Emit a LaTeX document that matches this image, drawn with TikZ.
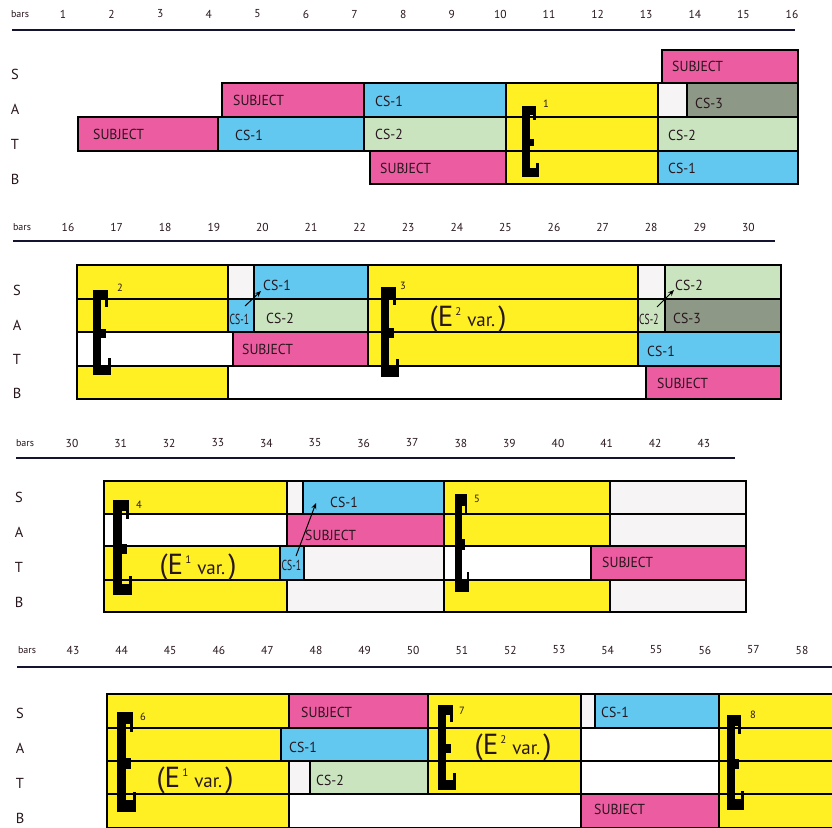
\documentclass[tikz,border=0pt]{standalone}
\usepackage{fontspec}
\setmainfont{PT Sans}
\newfontfamily\lab[FakeStretch=0.95]{PT Sans}
\usetikzlibrary{arrows.meta}
\definecolor{pk}{RGB}{236,92,160}
\definecolor{bl}{RGB}{98,200,240}
\definecolor{yl}{RGB}{255,240,35}
\definecolor{gr}{RGB}{202,228,192}
\definecolor{gy}{RGB}{142,152,134}
\definecolor{wh}{RGB}{246,244,244}
\definecolor{ink}{RGB}{40,22,30}
\definecolor{rulec}{RGB}{20,20,50}
\tikzset{
  cellbox/.style={draw=black, line width=1.3pt},
  lbl/.style={anchor=west, inner sep=0pt, text=ink, font=\lab\fontsize{14.5}{14.5}\selectfont},
  rowlbl/.style={anchor=center, inner sep=0pt, text=ink, font=\fontsize{14.5}{14.5}\selectfont},
  barnum/.style={anchor=center, inner sep=0pt, text=ink, font=\fontsize{11.5}{11.5}\selectfont},
  suplbl/.style={anchor=center, inner sep=0pt, text=ink, font=\fontsize{10.5}{10.5}\selectfont},
  rulel/.style={draw=rulec, line width=1.6pt},
  arr/.style={draw=black, line width=1pt, -{Stealth[length=6pt,width=5pt,open]}},
  evar/.style={anchor=center, inner sep=0pt, text=ink}
}
\newcommand{\mycell}[5]{\draw[cellbox, fill=#5] (#1,#2) rectangle (#3,#4);}
\newcommand{\mylab}[4]{\node[lbl] (#1) at (#2,#3) {#4};}
\newcommand{\mysmall}[4]{\node[lbl] (#1) at (#2,#3) {\scalebox{0.7}[1]{#4}};}
\newcommand{\Eg}[4]{%
  \fill[black] (#1,#2) rectangle ++(#4,#3);
  \fill[black] (#1,#2) rectangle ++(1.85*#4,0.12*#3);
  \fill[black] (#1+1.5*#4,#2) rectangle ++(0.35*#4,0.2*#3);
  \fill[black] (#1+#4,#2+0.46*#3) rectangle ++(0.6*#4,0.11*#3);
  \fill[black] (#1,#2+0.88*#3) rectangle ++(2.2*#4,0.12*#3);
  \fill[black] (#1+1.85*#4,#2+0.8*#3) rectangle ++(0.35*#4,0.12*#3);
}
\newcommand{\Evar}[4]{\node[evar] (#1) at (#2,#3) {\fontsize{29}{29}\selectfont(E\hspace{2pt}\raisebox{11pt}{\fontsize{11}{11}\selectfont #4}\hspace{6pt}{\fontsize{19}{19}\selectfont var.}\hspace{3pt})};}
\begin{document}
\begin{tikzpicture}[x=1pt,y=-1pt]
\useasboundingbox (0,0) rectangle (832,827);
\fill[white] (0,0) rectangle (832,827);

% ===== headers =====
\node[barnum, font=\fontsize{10}{10}\selectfont] (h1) at (20,14) {bars};
\foreach \i in {1,...,16} {\node[barnum] (h1n\i) at ({63+48.6*(\i-1)},14) {\i};}
\draw[rulel] (12,30) -- (795,30);

\node[barnum, font=\fontsize{10}{10}\selectfont] (h2) at (22,227) {bars};
\foreach \i in {16,...,30} {\node[barnum] (h2n\i) at ({68+48.6*(\i-16)},227) {\i};}
\draw[rulel] (13,241) -- (775,241);

\node[barnum, font=\fontsize{10}{10}\selectfont] (h3) at (25,443) {bars};
\foreach \i in {30,...,43} {\node[barnum] (h3n\i) at ({72+48.6*(\i-30)},443) {\i};}
\draw[rulel] (16,458) -- (735,458);

\node[barnum, font=\fontsize{10}{10}\selectfont] (h4) at (27,650) {bars};
\foreach \i in {43,...,58} {\node[barnum] (h4n\i) at ({73+48.6*(\i-43)},650) {\i};}
\draw[rulel] (17,667) -- (840,667);

% ===== row labels =====
\node[rowlbl] (r1s) at (15,74) {S};
\node[rowlbl] (r1a) at (15,109) {A};
\node[rowlbl] (r1t) at (15,144) {T};
\node[rowlbl] (r1b) at (15,179) {B};
\node[rowlbl] (r2s) at (17,290) {S};
\node[rowlbl] (r2a) at (17,325) {A};
\node[rowlbl] (r2t) at (17,359) {T};
\node[rowlbl] (r2b) at (17,393) {B};
\node[rowlbl] (r3s) at (19,497) {S};
\node[rowlbl] (r3a) at (19,532) {A};
\node[rowlbl] (r3t) at (19,567) {T};
\node[rowlbl] (r3b) at (19,602) {B};
\node[rowlbl] (r4s) at (20,713) {S};
\node[rowlbl] (r4a) at (20,748) {A};
\node[rowlbl] (r4t) at (20,783) {T};
\node[rowlbl] (r4b) at (20,818) {B};

% ===== section 1 =====
\mycell{662}{50}{798}{83}{pk}
\mycell{222}{83}{364}{117}{pk}
\mycell{364}{83}{506}{117}{bl}
\mycell{506}{83}{658}{117}{yl}
\mycell{658}{83}{687}{117}{wh}
\mycell{687}{83}{798}{117}{gy}
\mycell{78}{117}{218}{151}{pk}
\mycell{218}{117}{364}{151}{bl}
\mycell{364}{117}{506}{151}{gr}
\mycell{506}{117}{658}{151}{yl}
\mycell{658}{117}{798}{151}{gr}
\mycell{370}{151}{506}{184}{pk}
\mycell{506}{151}{658}{184}{yl}
\mycell{658}{151}{798}{184}{bl}
\mylab{a1}{672}{66}{SUBJECT}
\mylab{a2}{233}{100}{SUBJECT}
\mylab{a3}{375}{101}{CS-1}
\mylab{a4}{695}{103}{CS-3}
\mylab{a5}{93}{134}{SUBJECT}
\mylab{a6}{235}{135}{CS-1}
\mylab{a7}{375}{134}{CS-2}
\mylab{a8}{668}{135}{CS-2}
\mylab{a9}{380}{168}{SUBJECT}
\mylab{a10}{668}{168}{CS-1}
\Eg{522}{106}{71}{7.5}
\node[suplbl] (e1) at (546,104) {1};

% ===== section 2 =====
\mycell{77}{265}{228}{299}{yl}
\mycell{228}{265}{254}{299}{wh}
\mycell{254}{265}{368}{299}{bl}
\mycell{368}{265}{638}{299}{yl}
\mycell{638}{265}{665}{299}{wh}
\mycell{665}{265}{781}{299}{gr}
\mycell{77}{299}{228}{332}{yl}
\mycell{228}{299}{254}{332}{bl}
\mycell{254}{299}{368}{332}{gr}
\mycell{368}{299}{638}{332}{yl}
\mycell{638}{299}{665}{332}{gr}
\mycell{665}{299}{781}{332}{gy}
\mycell{77}{332}{233}{366}{white}
\mycell{233}{332}{368}{366}{pk}
\mycell{368}{332}{638}{366}{yl}
\mycell{638}{332}{781}{366}{bl}
\mycell{77}{366}{228}{399}{yl}
\mycell{228}{366}{646}{399}{white}
\mycell{646}{366}{781}{399}{pk}
\mylab{b1}{263}{285}{CS-1}
\mylab{b2}{675}{285}{CS-2}
\mysmall{b3}{229.5}{319}{CS-1}
\mylab{b4}{266}{318}{CS-2}
\mysmall{b5}{639}{319}{CS-2}
\mylab{b6}{673}{318}{CS-3}
\mylab{b7}{242}{349}{SUBJECT}
\mylab{b8}{647}{351}{CS-1}
\mylab{b9}{657}{383}{SUBJECT}
\Eg{93}{290}{85}{8}
\node[suplbl] (e2) at (120,288) {2};
\Eg{381}{287}{90}{8}
\node[suplbl] (e3) at (403,286) {3};
\Evar{v2}{468}{319}{2}
\coordinate (p1s) at (245,306);
\coordinate (p1e) at (261,291);
\draw[arr] (p1s) -- (p1e);
\coordinate (p2s) at (657,307);
\coordinate (p2e) at (674,290);
\draw[arr] (p2s) -- (p2e);

% ===== section 3 =====
\mycell{104}{481}{287}{514}{yl}
\mycell{287}{481}{303}{514}{wh}
\mycell{303}{481}{444}{514}{bl}
\mycell{444}{481}{610}{514}{yl}
\mycell{610}{481}{746}{514}{wh}
\mycell{104}{514}{287}{546}{white}
\mycell{287}{514}{444}{546}{pk}
\mycell{444}{514}{610}{546}{yl}
\mycell{610}{514}{746}{546}{wh}
\mycell{104}{546}{280}{580}{yl}
\mycell{280}{546}{304}{580}{bl}
\mycell{304}{546}{444}{580}{wh}
\mycell{444}{546}{591}{580}{white}
\mycell{591}{546}{746}{580}{pk}
\mycell{104}{580}{287}{612}{yl}
\mycell{287}{580}{444}{612}{wh}
\mycell{444}{580}{610}{612}{yl}
\mycell{610}{580}{746}{612}{wh}
\mylab{c1}{330}{502}{CS-1}
\mylab{c2}{305}{535}{SUBJECT}
\mysmall{c3}{281.5}{565}{CS-1}
\mylab{c4}{602}{562}{SUBJECT}
\Eg{113}{500}{95}{8.5}
\node[suplbl] (e4) at (139,505) {4};
\Eg{455}{494}{98}{6.5}
\node[suplbl] (e5) at (477,499) {5};
\Evar{v1}{198}{567}{1}
\coordinate (p3s) at (296,556);
\coordinate (p3e) at (316,503);
\draw[arr] (p3s) -- (p3e);

% ===== section 4 =====
\mycell{107}{694}{289}{728}{yl}
\mycell{289}{694}{428}{728}{pk}
\mycell{428}{694}{581}{728}{yl}
\mycell{581}{694}{595}{728}{wh}
\mycell{595}{694}{719}{728}{bl}
\mycell{719}{694}{845}{728}{yl}
\mycell{107}{728}{281}{761}{yl}
\mycell{281}{728}{428}{761}{bl}
\mycell{428}{728}{581}{761}{yl}
\mycell{581}{728}{719}{761}{white}
\mycell{719}{728}{845}{761}{yl}
\mycell{107}{761}{289}{794}{yl}
\mycell{289}{761}{310}{794}{wh}
\mycell{310}{761}{428}{794}{gr}
\mycell{428}{761}{581}{794}{yl}
\mycell{581}{761}{719}{794}{white}
\mycell{719}{761}{845}{794}{yl}
\mycell{107}{794}{289}{828}{yl}
\mycell{289}{794}{581}{828}{white}
\mycell{581}{794}{719}{828}{pk}
\mycell{719}{794}{845}{828}{yl}
\mylab{d1}{301}{712}{SUBJECT}
\mylab{d2}{601}{712}{CS-1}
\mylab{d3}{289}{747}{CS-1}
\mylab{d4}{316}{780}{CS-2}
\mylab{d5}{594}{809}{SUBJECT}
\Eg{117}{712}{100}{8.5}
\node[suplbl] (e6) at (143,717) {6};
\Eg{438}{705}{85}{8}
\node[suplbl] (e7) at (462,711) {7};
\Eg{727}{715}{95}{7.5}
\node[suplbl] (e8) at (753,715) {8};
\Evar{v3}{195}{780}{1}
\Evar{v4}{513}{747}{2}
\end{tikzpicture}
\end{document}
